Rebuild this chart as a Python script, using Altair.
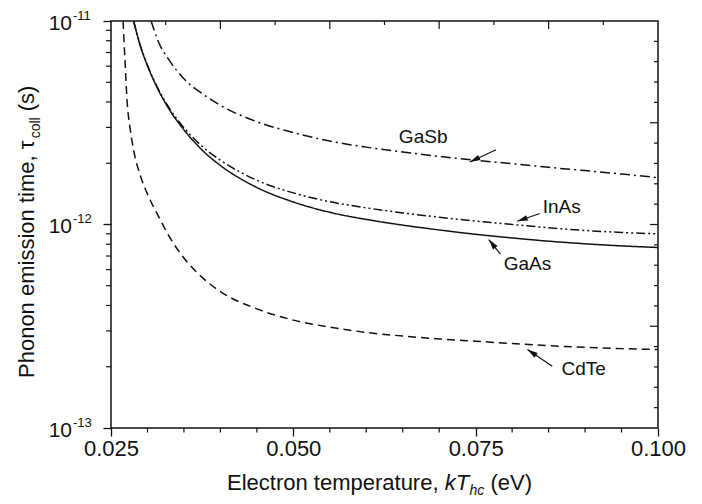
import math
import altair as alt
import pandas as pd

FONT = "Liberation Sans"
INK = "#111111"

# ---------------- data ----------------
series_names = ["GaSb", "InAs", "GaAs", "CdTe"]

gasb_x = [0.0305, 0.0315, 0.0330, 0.0350, 0.0375, 0.0400, 0.0450, 0.0500, 0.0550,
          0.0600, 0.0650, 0.0700, 0.0750, 0.0800, 0.0850, 0.0900, 0.0950, 0.1000]
gasb_y = [1.00e-11, 7.9e-12, 6.4e-12, 5.2e-12, 4.4e-12, 3.85e-12, 3.2e-12, 2.83e-12, 2.57e-12,
          2.40e-12, 2.27e-12, 2.16e-12, 2.07e-12, 1.99e-12, 1.91e-12, 1.84e-12, 1.77e-12, 1.70e-12]

inas_x = [0.0281, 0.0290, 0.0300, 0.0315, 0.0330, 0.0350, 0.0375, 0.0400, 0.0450, 0.0500,
          0.0550, 0.0600, 0.0650, 0.0700, 0.0750, 0.0800, 0.0850, 0.0900, 0.0950, 0.1000]
inas_y = [1.00e-11, 7.62e-12, 6.07e-12, 4.62e-12, 3.73e-12, 2.99e-12, 2.42e-12, 2.07e-12, 1.65e-12, 1.43e-12,
          1.294e-12, 1.208e-12, 1.140e-12, 1.086e-12, 1.040e-12, 1.000e-12, 9.64e-13, 9.35e-13, 9.14e-13, 8.99e-13]

gaas_x = [0.0281, 0.0290, 0.0300, 0.0315, 0.0330, 0.0350, 0.0375, 0.0400, 0.0450, 0.0500,
          0.0550, 0.0600, 0.0650, 0.0700, 0.0750, 0.0800, 0.0850, 0.0900, 0.0950, 0.1000]
gaas_y = [1.00e-11, 7.59e-12, 6.03e-12, 4.57e-12, 3.67e-12, 2.92e-12, 2.32e-12, 1.95e-12, 1.52e-12, 1.29e-12,
          1.148e-12, 1.059e-12, 9.93e-13, 9.40e-13, 8.95e-13, 8.59e-13, 8.28e-13, 8.04e-13, 7.85e-13, 7.71e-13]

cdte_x = [0.02665, 0.0270, 0.0272, 0.0276, 0.0281, 0.0290, 0.0302, 0.0315, 0.0330, 0.0350,
          0.0375, 0.0400, 0.0450, 0.0500, 0.0550, 0.0600, 0.0650, 0.0700, 0.0750, 0.0800,
          0.0850, 0.0900, 0.0950, 0.1000]
cdte_y = [1.00e-11, 5.6e-12, 4.07e-12, 3.0e-12, 2.32e-12, 1.75e-12, 1.36e-12, 1.10e-12, 8.71e-13, 6.84e-13,
          5.50e-13, 4.68e-13, 3.85e-13, 3.39e-13, 3.13e-13, 2.95e-13, 2.83e-13, 2.74e-13, 2.67e-13, 2.60e-13,
          2.54e-13, 2.49e-13, 2.455e-13, 2.43e-13]

# axis ticks
x_major = [0.025, 0.050, 0.075, 0.100]
x_minor = [0.030, 0.035, 0.040, 0.045, 0.055, 0.060, 0.065, 0.070, 0.080, 0.085, 0.090, 0.095]
y_major = [1e-11, 1e-12, 1e-13]
y_major_exp = ["-11", "-12", "-13"]
y_minor = [2e-13, 3e-13, 4e-13, 5e-13, 6e-13, 7e-13, 8e-13, 9e-13,
           2e-12, 3e-12, 4e-12, 5e-12, 6e-12, 7e-12, 8e-12, 9e-12]
top_long = [0.040, 0.055, 0.070, 0.085]
top_short = [0.0325, 0.0475, 0.0625, 0.0775, 0.0925]
right_long_exp = [-11.5, -12.0, -12.5]
right_short_exp = [-11.1, -11.2, -11.3, -11.4, -11.6, -11.7, -11.8, -11.9,
                   -12.1, -12.2, -12.3, -12.4, -12.6, -12.7, -12.8, -12.9]

# annotations
label_text = ["GaSb", "InAs", "GaAs", "CdTe"]
label_x = [0.0678, 0.0868, 0.0821, 0.0898]
label_y = [2.70e-12, 1.215e-12, 6.37e-13, 1.96e-13]
arrow_tail_x = [0.0778, 0.0838, 0.0784, 0.0855]
arrow_tail_y = [2.33e-12, 1.132e-12, 7.15e-13, 2.01e-13]
arrow_head_x = [0.0742, 0.0807, 0.0768, 0.0821]
arrow_head_y = [2.03e-12, 1.037e-12, 8.43e-13, 2.43e-13]

# ---------------- layout ----------------
W, H = 547, 407
X_DOM = [0.025, 0.100]
Y_DOM = [1e-13, 1e-11]

xs = alt.Scale(domain=X_DOM, nice=False, zero=False)
ys = alt.Scale(type="log", domain=Y_DOM, nice=False)


def px(x):
    return (x - X_DOM[0]) / (X_DOM[1] - X_DOM[0]) * W


def py(v):
    return (math.log10(Y_DOM[1]) - math.log10(v)) / (math.log10(Y_DOM[1]) - math.log10(Y_DOM[0])) * H


rows = []
for name, xv, yv in [("GaSb", gasb_x, gasb_y), ("InAs", inas_x, inas_y),
                     ("GaAs", gaas_x, gaas_y), ("CdTe", cdte_x, cdte_y)]:
    for i, (a, b) in enumerate(zip(xv, yv)):
        rows.append({"series": name, "x": a, "y": b, "i": i})
curves = pd.DataFrame(rows)

dash_range = [[10, 4, 2, 4], [9, 3, 2, 3, 2, 3], [1, 0], [8, 5]]

lines = alt.Chart(curves).mark_line(
    color=INK, clip=True, interpolate="monotone"
).encode(
    x=alt.X("x:Q", scale=xs,
            axis=alt.Axis(values=x_major, format=".3f", title=None, grid=False, domain=False,
                          tickSize=8, tickWidth=1.3, tickColor=INK, labelPadding=2,
                          labelFont=FONT, labelFontSize=22, labelColor=INK, labelFlush=False)),
    y=alt.Y("y:Q", scale=ys,
            axis=alt.Axis(values=y_major, labels=False, title=None, grid=False, domain=False,
                          tickSize=8, tickWidth=1.3, tickColor=INK)),
    detail="series:N",
    order="i:Q",
    strokeDash=alt.StrokeDash("series:N", scale=alt.Scale(domain=series_names, range=dash_range),
                              legend=None),
    strokeWidth=alt.StrokeWidth("series:N", scale=alt.Scale(domain=series_names,
                                                            range=[1.5, 1.5, 1.9, 1.5]),
                                legend=None),
)

def rule_layer(df, enc):
    return alt.Chart(df).mark_rule(color=INK, strokeWidth=1.2).encode(**enc)

bx = rule_layer(pd.DataFrame({"x": x_minor}),
                dict(x=alt.X("x:Q", scale=xs), y=alt.value(H), y2=alt.value(H + 4.5)))
ly = rule_layer(pd.DataFrame({"y": y_minor}),
                dict(y=alt.Y("y:Q", scale=ys), x=alt.value(-5), x2=alt.value(0)))
tl = rule_layer(pd.DataFrame({"x": top_long}),
                dict(x=alt.X("x:Q", scale=xs), y=alt.value(0), y2=alt.value(8)))
ts = rule_layer(pd.DataFrame({"x": top_short}),
                dict(x=alt.X("x:Q", scale=xs), y=alt.value(0), y2=alt.value(4)))
rl = rule_layer(pd.DataFrame({"y": [10 ** e for e in right_long_exp]}),
                dict(y=alt.Y("y:Q", scale=ys), x=alt.value(W - 8), x2=alt.value(W)))
rs = rule_layer(pd.DataFrame({"y": [10 ** e for e in right_short_exp]}),
                dict(y=alt.Y("y:Q", scale=ys), x=alt.value(W - 4), x2=alt.value(W)))

# y tick labels 10^n
ylab = pd.DataFrame({"y": y_major, "base": ["10"] * 3, "exp": y_major_exp})
ylab10 = alt.Chart(ylab).mark_text(font=FONT, fontSize=21, align="right", baseline="alphabetic",
                                   dy=8.5, color=INK).encode(
    y=alt.Y("y:Q", scale=ys), x=alt.value(-39), text="base:N")
ylabexp = alt.Chart(ylab).mark_text(font=FONT, fontSize=13, align="left", baseline="alphabetic",
                                    dy=-1.5, color=INK).encode(
    y=alt.Y("y:Q", scale=ys), x=alt.value(-38), text="exp:N")

# annotations
ann = pd.DataFrame({"label": label_text, "lx": label_x, "ly": label_y,
                    "x1": arrow_tail_x, "y1": arrow_tail_y, "x2": arrow_head_x, "y2": arrow_head_y})
ann["ang"] = [
    (math.degrees(math.atan2(px(hx) - px(tx), -(py(hy) - py(ty)))) + 360) % 360
    for tx, ty, hx, hy in zip(arrow_tail_x, arrow_tail_y, arrow_head_x, arrow_head_y)
]

labels = alt.Chart(ann).mark_text(font=FONT, fontSize=19, align="center", baseline="middle",
                                  color=INK).encode(
    x=alt.X("lx:Q", scale=xs), y=alt.Y("ly:Q", scale=ys), text="label:N")
shafts = alt.Chart(ann).mark_rule(color=INK, strokeWidth=1.2).encode(
    x=alt.X("x1:Q", scale=xs), y=alt.Y("y1:Q", scale=ys), x2="x2:Q", y2="y2:Q")
heads = alt.Chart(ann).mark_point(shape="M0,0L0.6,2.2L-0.6,2.2Z", filled=True, fill=INK,
                                  size=90, opacity=1).encode(
    x=alt.X("x2:Q", scale=xs), y=alt.Y("y2:Q", scale=ys),
    angle=alt.Angle("ang:Q", scale=None))

# axis titles composed of styled pieces
one = pd.DataFrame({"a": [0]})

def piece(s, x, y, size, italic=False, angle=0):
    kw = dict(text=s, font=FONT, fontSize=size, align="left", baseline="alphabetic",
              color=INK, angle=angle)
    if italic:
        kw["fontStyle"] = "italic"
    return alt.Chart(one).mark_text(**kw).encode(x=alt.value(x), y=alt.value(y))

AW = {" ": 278, ",": 278, "(": 333, ")": 333, "E": 667, "l": 222, "e": 556, "c": 500, "t": 278,
      "r": 333, "o": 556, "n": 556, "m": 833, "p": 556, "a": 556, "u": 556, "V": 667, "P": 667,
      "h": 556, "i": 222, "s": 500, "k": 500, "T": 611, "τ": 500}

def tw(s, size):
    return sum(AW.get(c, 556) for c in s) / 1000.0 * size

# x title
XT = 22
xt_y = 469
x0 = 116
p1 = "Electron temperature,"
x1 = x0 + tw(p1 + " ", XT)
x2 = x1 + tw("kT", XT) + 0.5
x3 = x2 + tw("hc", 14) + tw(" ", XT)
xtitle = [piece(p1, x0, xt_y, XT), piece("kT", x1, xt_y, XT, italic=True),
          piece("hc", x2, xt_y + 5, 14, italic=True), piece("(eV)", x3, xt_y, XT)]

# y title (rotated, reading upward)
YT = 22
yb = -77
y0 = 357
q1 = "Phonon emission time,"
o1 = tw(q1 + " ", YT)
o2 = o1 + tw("τ", YT)
o3 = o2 + tw("coll", 14) + tw(" ", YT)
ytitle = [piece(q1, yb, y0, YT, angle=270), piece("τ", yb, y0 - o1, YT, angle=270),
          piece("coll", yb + 6, y0 - o2, 14, angle=270), piece("(s)", yb, y0 - o3, YT, angle=270)]

chart = alt.layer(
    lines, bx, ly, tl, ts, rl, rs, ylab10, ylabexp, shafts, heads, labels, *xtitle, *ytitle
).properties(
    width=W, height=H,
    padding={"left": 111, "top": 21, "right": 44, "bottom": 76},
    autosize=alt.AutoSizeParams(type="none"),
    background="white",
).configure_view(stroke=INK, strokeWidth=1.5)

chart.save("out.html", embed_options={"renderer": "svg", "actions": False})
